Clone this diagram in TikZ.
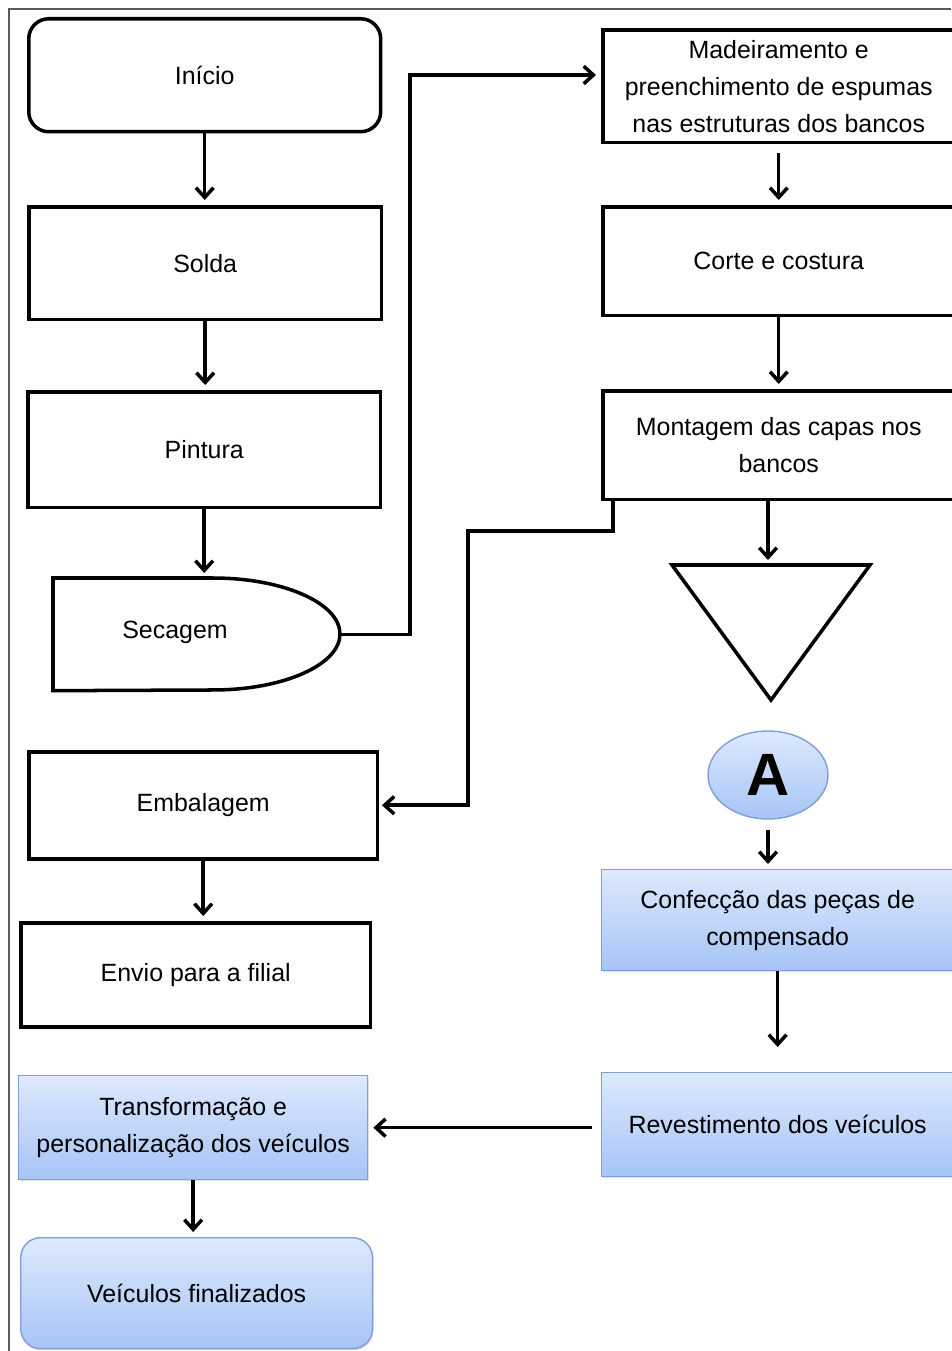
\documentclass[tikz,border=0pt]{standalone}
\usepackage{fontspec}
\setmainfont{Liberation Sans}
\usetikzlibrary{arrows.meta,shapes.geometric,shadows}
\definecolor{bluetop}{HTML}{DDE9FD}
\definecolor{bluebot}{HTML}{A6C4F6}
\definecolor{blueline}{HTML}{7F9FD6}
\definecolor{framegray}{HTML}{5A5A5A}
\begin{document}
\begin{tikzpicture}[x=0.02cm,y=-0.02cm,
  every node/.style={font=\fontsize{14.2}{21}\selectfont, align=center},
  box/.style={draw, line width=2pt, anchor=north west, inner sep=0pt},
  rbox/.style={box, rounded corners=0.4cm},
  bluebox/.style={draw=blueline, line width=0.8pt, top color=bluetop, bottom color=bluebot, anchor=north west, inner sep=0pt, drop shadow={opacity=0.25, shadow xshift=0.5pt, shadow yshift=-1pt}},
  arr/.style={line width=2pt, shorten >=0.1cm, -{Straight Barb[length=5.5pt,width=10pt]}},
  conn/.style={line width=2pt},
]
\useasboundingbox (0,0) rectangle (951,1351);
\fill[white] (0,0) rectangle (951,1351);
\draw[framegray, line width=1pt] (9,1351) -- (9,9) -- (951,9);

% left column
\node[rbox, minimum width=7.04cm, minimum height=2.26cm] (inicio) at (27,17) {Início};
\node[box, minimum width=7.06cm, minimum height=2.26cm] (solda) at (27,205) {Solda};
\node[box, minimum width=7.06cm, minimum height=2.32cm] (pintura) at (26,390) {Pintura};
\node[anchor=north west, minimum width=5.74cm, minimum height=2.24cm, inner sep=0pt] (secagem) at (53,578) {};
\draw[conn] (secagem.north west) -- (213,578) arc[start angle=90,end angle=-90,x radius=2.54cm,y radius=1.12cm] -- (secagem.south west) -- cycle;
\node (secagemtxt) at (175,632) {Secagem};
\node[box, minimum width=6.98cm, minimum height=2.14cm] (embal) at (27,750) {Embalagem};
\node[box, minimum width=7.0cm, minimum height=2.08cm] (envio) at (19,921) {Envio para a filial};
\node[bluebox, minimum width=6.98cm, minimum height=2.08cm] (transf) at (18,1075) {Transformação e\\personalização dos veículos};
\node[bluebox, rounded corners=0.4cm, minimum width=7.04cm, minimum height=2.22cm] (veic) at (20,1237) {Veículos finalizados};

% right column
\node[box, minimum width=7.04cm, minimum height=2.26cm] (madeira) at (601,28) {Madeiramento e\\preenchimento de espumas\\nas estruturas dos bancos};
\node[box, minimum width=7.04cm, minimum height=2.18cm] (corte) at (601,205) {Corte e costura};
\node[box, minimum width=7.04cm, minimum height=2.18cm] (mont) at (601,389) {Montagem das capas nos\\bancos};
\coordinate (tl) at (672,565);
\coordinate (tr) at (870,565);
\coordinate (tb) at (771,700);
\coordinate (tritop) at (771,565);
\draw[conn, line join=miter] (tl) -- (tr) -- (tb) -- cycle;
\node[ellipse, draw=blueline, line width=0.8pt, top color=bluetop, bottom color=bluebot, minimum width=2.4cm, minimum height=1.76cm, inner sep=0pt, font=\fontsize{34}{40}\bfseries\selectfont] (A) at (768,775) {A};
\node[bluebox, minimum width=7.04cm, minimum height=2.02cm] (confec) at (601,869) {Confecção das peças de\\compensado};
\node[bluebox, minimum width=7.04cm, minimum height=2.08cm] (revest) at (601,1072) {Revestimento dos veículos};

% connectors
\coordinate (c1) at (410,75);
\coordinate (d1) at (613,531);
\coordinate (d2) at (468,531);
\draw[arr] (inicio.south) -- (inicio.south |- solda.north);
\draw[arr] (solda.south) -- (solda.south |- pintura.north);
\draw[arr] (pintura.south) -- (pintura.south |- secagem.north);
\draw[arr] (secagem.east) -| (c1) -- (c1 -| madeira.west);
\draw[arr, shorten <=0.18cm] (madeira.south) -- (madeira.south |- corte.north);
\draw[arr] (corte.south) -- (corte.south |- mont.north);
\draw[arr] (mont.south -| A) -- (A |- tritop);
\draw[arr, shorten >=0.05cm] (mont.south -| d1) -- (d1) -- (d2) |- (embal.east);
\draw[arr, shorten <=0.2cm] (A.south) -- (A.south |- confec.north);
\draw[arr, shorten >=0.5cm] (confec.south) -- (confec.south |- revest.north);
\draw[arr, shorten <=0.18cm] (revest.west |- transf.east) -- (transf.east);
\draw[arr] (transf.south) -- (transf.south |- veic.north);
\draw[arr] (embal.south) -- (embal.south |- envio.north);
\end{tikzpicture}
\end{document}
